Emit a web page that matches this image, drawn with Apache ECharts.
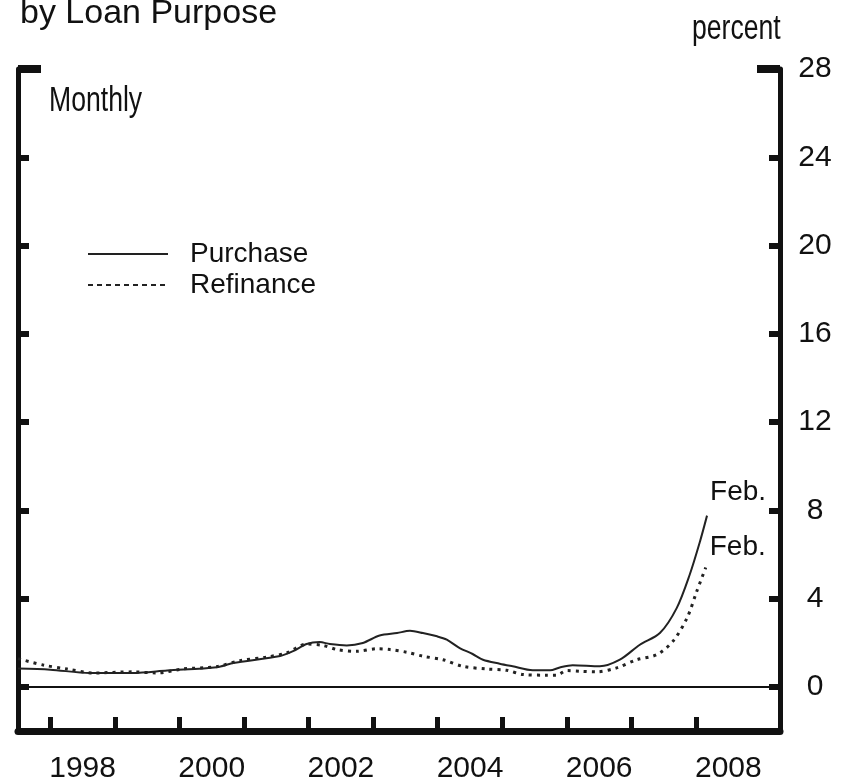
<!DOCTYPE html>
<html>
<head>
<meta charset="utf-8">
<script src="https://cdn.jsdelivr.net/npm/echarts@6/dist/echarts.min.js"></script>
<style>
  html, body { margin: 0; padding: 0; background: #fff; }
  #chart { width: 844px; height: 784px; }
</style>
</head>
<body>
<div id="chart"></div>
<script>
// values, dates as decimal years
const purchaseDates = [1997.50, 1998.00, 1998.61, 1999.28, 1999.81, 2000.58, 2000.83, 2001.56, 2001.76, 2001.97,
  2002.17, 2002.33, 2002.59, 2002.84, 2003.10, 2003.37, 2003.57, 2003.77, 2003.99, 2004.14,
  2004.34, 2004.54, 2004.70, 2004.96, 2005.16, 2005.47, 2005.74, 2005.89, 2006.09, 2006.51,
  2006.82, 2007.13, 2007.44, 2007.70, 2007.90, 2008.06, 2008.17];
const purchaseValues = [0.83, 0.78, 0.63, 0.63, 0.74, 0.89, 1.08, 1.40, 1.62, 1.94,
  2.03, 1.94, 1.88, 1.99, 2.33, 2.44, 2.54, 2.44, 2.29, 2.14,
  1.76, 1.49, 1.23, 1.05, 0.93, 0.75, 0.75, 0.88, 0.98, 0.93,
  1.23, 1.91, 2.44, 3.57, 5.07, 6.58, 7.76];

const refinanceDates = [1997.50, 1997.89, 1998.26, 1998.66, 1999.28, 1999.65, 2000.05, 2000.58, 2000.94, 2001.35,
  2001.66, 2001.97, 2002.22, 2002.44, 2002.75, 2003.06, 2003.26, 2003.52, 2003.77, 2004.08,
  2004.39, 2004.76, 2005.07, 2005.32, 2005.69, 2005.84, 2006.00, 2006.20, 2006.46, 2006.77,
  2007.08, 2007.39, 2007.64, 2007.86, 2008.01, 2008.15];
const refinanceValues = [1.28, 0.99, 0.81, 0.63, 0.68, 0.63, 0.81, 0.92, 1.19, 1.35,
  1.54, 1.94, 1.88, 1.69, 1.61, 1.73, 1.69, 1.57, 1.39, 1.23,
  0.93, 0.81, 0.75, 0.56, 0.53, 0.53, 0.74, 0.71, 0.68, 0.86,
  1.23, 1.46, 2.06, 3.12, 4.32, 5.41];

const yearTicks = [1998, 1999, 2000, 2001, 2002, 2003, 2004, 2005, 2006, 2007, 2008];
const yearLabels = [1998.5, 2000.5, 2002.5, 2004.5, 2006.5, 2008.5];
const valueTicks = [0, 4, 8, 12, 16, 20, 24];
const valueLabels = [0, 4, 8, 12, 16, 20, 24, 28];

const font = "'Liberation Sans', Arial, sans-serif";
const ink = '#111';

const chart = echarts.init(document.getElementById('chart'));

function pairs(xs, ys) {
  return xs.map((x, i) => [x, ys[i]]);
}

// left/right frame: the 28 stubs are longer, so they get their own axes
function sideAxis(position, ticks, len, width, labels, line) {
  return {
    type: 'value',
    position: position,
    min: -2,
    max: 28,
    axisLine: { show: line, lineStyle: { color: ink, width: 5 } },
    axisTick: { show: true, inside: true, length: len, customValues: ticks, lineStyle: { color: ink, width: width } },
    axisLabel: labels ? {
      show: true, customValues: labels, align: 'center', margin: 35,
      fontSize: 30, fontFamily: font, color: ink
    } : { show: false },
    splitLine: { show: false }
  };
}

function narrowText(text, x, y, size) {
  return {
    type: 'text', x: x, y: y, scaleX: 0.76,
    style: { text: text, fontSize: size, fontFamily: font, fill: ink, verticalAlign: 'middle' }
  };
}

const option = {
  animation: false,
  grid: { left: 18, right: 64, top: 69, bottom: 51 },
  legend: {
    orient: 'vertical',
    left: 82,
    top: 235,
    itemWidth: 80,
    itemHeight: 14,
    itemGap: 3,
    itemStyle: { opacity: 0 },
    textStyle: { fontSize: 28, fontFamily: font, color: ink, padding: [0, 0, 0, 17] },
    data: [
      { name: 'Purchase', lineStyle: { type: 'solid', width: 2 } },
      { name: 'Refinance', lineStyle: { type: [5, 4], width: 2 } }
    ]
  },
  xAxis: {
    type: 'value',
    min: 1997.5,
    max: 2009.3,
    axisLine: { onZero: false, lineStyle: { color: ink, width: 7 } },
    axisTick: { show: true, inside: true, length: 14, customValues: yearTicks, lineStyle: { color: ink, width: 5 } },
    axisLabel: {
      customValues: yearLabels,
      formatter: v => String(Math.floor(v)),
      margin: 23, fontSize: 30, fontFamily: font, color: ink
    },
    splitLine: { show: false }
  },
  yAxis: [
    sideAxis('right', valueTicks, 11, 6, valueLabels, true),
    sideAxis('left', valueTicks, 11, 6, null, true),
    sideAxis('right', [28], 23, 8, null, false),
    sideAxis('left', [28], 23, 8, null, false)
  ],
  graphic: [
    { type: 'text', x: 20, y: 14, style: { text: 'by Loan Purpose', fontSize: 34, fontFamily: font, fill: ink, verticalAlign: 'middle' } },
    narrowText('percent', 692, 29, 35),
    narrowText('Monthly', 49, 101, 35)
  ],
  series: [
    {
      name: 'Purchase',
      type: 'line',
      yAxisIndex: 0,
      data: pairs(purchaseDates, purchaseValues),
      smooth: 0.3,
      symbol: 'none',
      lineStyle: { color: '#222', width: 2 },
      itemStyle: { color: '#222' },
      endLabel: { show: true, formatter: 'Feb.', offset: [-5, -23], fontSize: 28, fontFamily: font, color: ink },
      markLine: {
        silent: true,
        symbol: 'none',
        label: { show: false },
        lineStyle: { color: ink, width: 2, type: 'solid' },
        data: [{ yAxis: 0 }]
      }
    },
    {
      name: 'Refinance',
      type: 'line',
      yAxisIndex: 0,
      data: pairs(refinanceDates, refinanceValues),
      smooth: 0.3,
      symbol: 'none',
      lineStyle: { color: '#222', width: 3, type: [3, 5] },
      itemStyle: { color: '#222' },
      endLabel: { show: true, formatter: 'Feb.', offset: [-4, -20], fontSize: 28, fontFamily: font, color: ink }
    }
  ]
};

chart.setOption(option);
window.addEventListener('resize', () => {
  chart.resize();
});
</script>
</body>
</html>
